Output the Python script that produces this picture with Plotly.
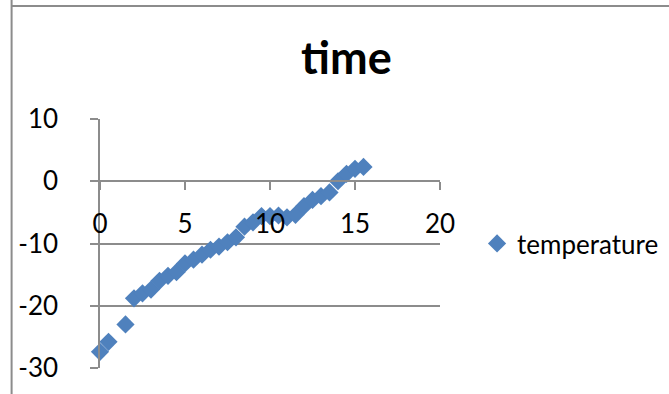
import plotly.graph_objects as go

# Temperature readings against time
time_min = [0, 0.5, 1.5, 2, 2.5, 3, 3.5, 4, 4.5, 5, 5.5, 6, 6.5, 7, 7.5, 8,
            8.5, 9, 9.5, 10, 10.5, 11, 11.5, 12, 12.5, 13, 13.5, 14, 14.5, 15, 15.5]
temperature = [-27.4, -25.8, -23.0, -18.8, -18.0, -17.4, -16.0, -15.2, -14.6, -13.2,
               -12.6, -11.8, -11.0, -10.5, -9.8, -9.0, -7.3, -6.6, -5.6, -5.6,
               -5.5, -5.8, -5.4, -4.0, -3.0, -2.4, -1.8, 0.0, 1.2, 2.0, 2.3]

x_ticks = [0, 5, 10, 15, 20]
y_ticks = [-30, -20, -10, 0, 10]
y_tick_text = ["-30", "-20", "-10", "0", "10"]

FONT = "Lato"
GRID = "#8c8c8c"
BLUE = "#4F81BD"

fig = go.Figure()
fig.add_trace(go.Scatter(
    x=time_min, y=temperature, mode="markers", name="temperature",
    cliponaxis=False,
    marker=dict(symbol="diamond", size=14, color=BLUE, line=dict(width=0)),
))

fig.update_layout(
    width=669, height=394,
    margin=dict(l=100, r=229, t=119, b=26, autoexpand=False),
    paper_bgcolor="white", plot_bgcolor="white",
    font=dict(family=FONT, size=26, color="black"),
    showlegend=True,
    legend=dict(x=1.109, y=0.5, xanchor="left", yanchor="middle",
                font=dict(family=FONT, size=26), itemwidth=30,
                bgcolor="rgba(0,0,0,0)"),
    xaxis=dict(range=[0, 20], tickvals=x_ticks, showgrid=False, zeroline=False,
               showline=True, linecolor=GRID, linewidth=1.5,
               ticks="outside", ticklen=8, tickcolor=GRID, tickwidth=1.5,
               anchor="free", position=0.75, ticklabelstandoff=12),
    yaxis=dict(range=[-30, 10], tickvals=y_ticks, ticktext=y_tick_text,
               showgrid=True, gridcolor=GRID, gridwidth=1.5, zeroline=False,
               showline=True, linecolor=GRID, linewidth=1.5,
               ticks="outside", ticklen=8, tickcolor=GRID, tickwidth=1.5,
               ticklabelstandoff=27),
    annotations=[dict(text="<b>time</b>", xref="paper", yref="paper",
                      x=0.726, y=1.0, yshift=62, xanchor="center",
                      yanchor="middle", showarrow=False,
                      font=dict(family=FONT, size=45, color="black"))],
    shapes=[
        dict(type="line", xref="paper", yref="paper", x0=-0.26, x1=-0.26,
             y0=-0.2, y1=1.5, line=dict(color="#8c8c8c", width=2)),
        dict(type="line", xref="paper", yref="paper", x0=-0.26, x1=1.8,
             y0=1.454, y1=1.454, line=dict(color="#8c8c8c", width=2)),
    ],
)

fig.write_html("out.html")
